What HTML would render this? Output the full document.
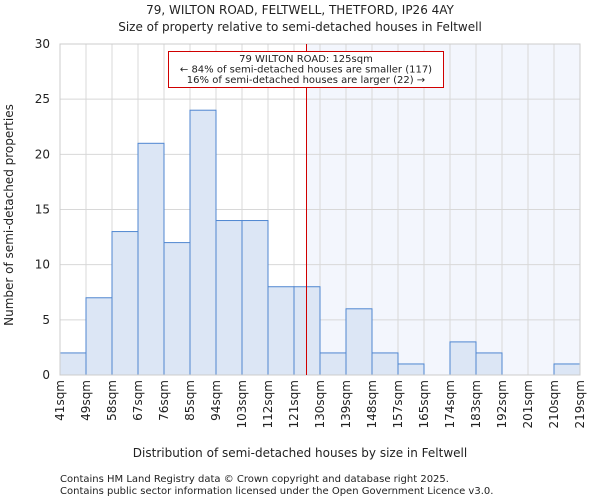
<!DOCTYPE html>
<html><head><meta charset="utf-8"><style>
body{margin:0;background:#fff;font-family:"DejaVu Sans","Liberation Sans",sans-serif}
svg text{font-family:"DejaVu Sans","Liberation Sans",sans-serif;fill:#222}
</style></head><body>
<svg id="c" width="600" height="500" xmlns="http://www.w3.org/2000/svg">
<rect width="600" height="500" fill="#fff"/>
<text x="300" y="14" font-size="12" text-anchor="middle">79, WILTON ROAD, FELTWELL, THETFORD, IP26 4AY</text>
<text x="300" y="31" font-size="12" text-anchor="middle">Size of property relative to semi-detached houses in Feltwell</text>
<g id="plot"></g>
<text x="300" y="457" font-size="12" text-anchor="middle">Distribution of semi-detached houses by size in Feltwell</text>
<text transform="translate(13,215) rotate(-90)" font-size="12" text-anchor="middle">Number of semi-detached properties</text>
<text x="60" y="482" font-size="10">Contains HM Land Registry data © Crown copyright and database right 2025.</text>
<text x="60" y="494" font-size="10">Contains public sector information licensed under the Open Government Licence v3.0.</text>
</svg>
<script>
const edgeLabels=["41sqm","49sqm","58sqm","67sqm","76sqm","85sqm","94sqm","103sqm","112sqm","121sqm","130sqm","139sqm","148sqm","157sqm","165sqm","174sqm","183sqm","192sqm","201sqm","210sqm","219sqm"];
const counts=[2,7,13,21,12,24,14,14,8,8,2,6,2,1,0,3,2,0,0,1];
const yTicks=[0,5,10,15,20,25,30];
const markerBin=9+4/9; // 125 sqm within 121-130 bin
const NS="http://www.w3.org/2000/svg";
const L=60,R=580,T=44,B=375,yMax=30;
const bw=(R-L)/counts.length;
const xs=i=>L+i*bw;
const ys=v=>B-(B-T)*v/yMax;
const g=document.getElementById('plot');
function mk(t,a){const e=document.createElementNS(NS,t);for(const k in a)e.setAttribute(k,a[k]);g.appendChild(e);return e;}
const mx=Math.round(xs(markerBin))+0.5;
let e=mk('rect',{x:mx,y:T,width:R-mx,height:B-T,fill:'#f3f6fd'});


edgeLabels.forEach((l,i)=>{
 let ln=mk('line',{x1:xs(i),x2:xs(i),y1:T,y2:B,stroke:'#d8d8d8','stroke-width':1});
 
 
 let t=mk('text',{transform:`translate(${xs(i)+4},${B+5}) rotate(-90)`,'font-size':12,'text-anchor':'end'});
 t.textContent=l;
 
 
});
yTicks.forEach(v=>{
 let ln=mk('line',{x1:L,x2:R,y1:ys(v),y2:ys(v),stroke:'#d8d8d8','stroke-width':1});
 
 
 let t=mk('text',{x:L-10,y:ys(v)+4,'font-size':12,'text-anchor':'end'});
 t.textContent=v;
 
 
});
counts.forEach((v,i)=>{
 if(v<=0)return;
 let r=mk('rect',{x:xs(i),y:ys(v),width:bw,height:B-ys(v),fill:'#dce6f5',stroke:'#4f86d0','stroke-width':1});
 
 
});
let ax=mk('rect',{x:L,y:T,width:R-L,height:B-T,fill:'none',stroke:'#ccc'});


let ml=mk('line',{x1:mx,x2:mx,y1:T,y2:B,stroke:'#d00000','stroke-width':1});


let box=mk('rect',{x:168.5,y:51.5,width:275,height:36,fill:'#fff',stroke:'#d00000','stroke-width':1});


["79 WILTON ROAD: 125sqm","← 84% of semi-detached houses are smaller (117)","16% of semi-detached houses are larger (22) →"].forEach((s,i)=>{
 let t=mk('text',{x:306,y:62+i*10.5,'font-size':10,'text-anchor':'middle'});
 t.textContent=s;
 
 
});
</script>
</body></html>
